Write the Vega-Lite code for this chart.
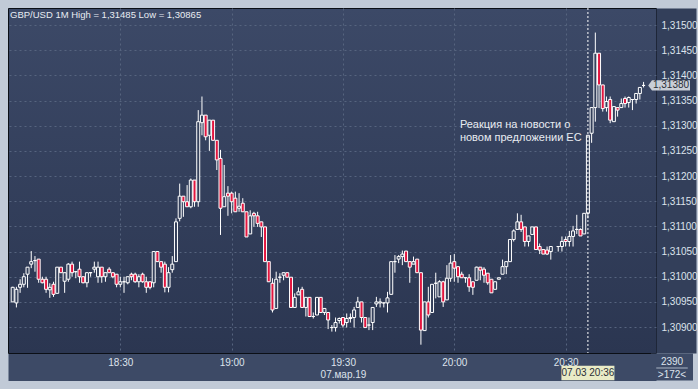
{
"$schema": "https://vega.github.io/schema/vega-lite/v6.json",
"width": 648, "height": 345,
"autosize": "none",
"padding": {"left": 8, "top": 8, "right": 42, "bottom": 36},
"background": "#c1cad7",
"config": {
 "view": {"stroke": "#0b0f16", "strokeWidth": 1, "fill": {"gradient": "linear", "x1": 0, "y1": 0, "x2": 0, "y2": 1, "stops": [{"offset": 0, "color": "#3c4967"}, {"offset": 1, "color": "#2b3651"}]}},
 "axis": {"labelFont": "Liberation Sans", "labelFontSize": 10, "labelColor": "#dde3ec", "gridColor": "#56647f", "gridDash": [2, 3], "ticks": false, "title": null, "labelOverlap": false}
},
"resolve": {"axis": {"x": "independent", "y": "independent"}},
"title": {"text": "GBP/USD 1M High = 1,31485 Low = 1,30865", "anchor": "start", "frame": "group", "offset": -12, "dx": 2, "font": "Liberation Sans", "fontSize": 9.5, "fontWeight": "normal", "color": "#e8ecf2"},
"datasets": {
"candles": [
{"t":"2019-03-07T18:01","o":1.30950,"h":1.30980,"l":1.30950,"c":1.30979},
{"t":"2019-03-07T18:02","o":1.30948,"h":1.30980,"l":1.30939,"c":1.30975},
{"t":"2019-03-07T18:03","o":1.30979,"h":1.30995,"l":1.30968,"c":1.30985},
{"t":"2019-03-07T18:04","o":1.30985,"h":1.31007,"l":1.30979,"c":1.31000},
{"t":"2019-03-07T18:05","o":1.31005,"h":1.31019,"l":1.30978,"c":1.31019},
{"t":"2019-03-07T18:06","o":1.31025,"h":1.31051,"l":1.31017,"c":1.31030},
{"t":"2019-03-07T18:07","o":1.31032,"h":1.31041,"l":1.31010,"c":1.31032},
{"t":"2019-03-07T18:08","o":1.31035,"h":1.31035,"l":1.30988,"c":1.30995},
{"t":"2019-03-07T18:09","o":1.30995,"h":1.31000,"l":1.30987,"c":1.30988},
{"t":"2019-03-07T18:10","o":1.30995,"h":1.31000,"l":1.30968,"c":1.30975},
{"t":"2019-03-07T18:11","o":1.30974,"h":1.30987,"l":1.30958,"c":1.30979},
{"t":"2019-03-07T18:12","o":1.30985,"h":1.30990,"l":1.30960,"c":1.30965},
{"t":"2019-03-07T18:13","o":1.30967,"h":1.31019,"l":1.30967,"c":1.31019},
{"t":"2019-03-07T18:14","o":1.31019,"h":1.31019,"l":1.31008,"c":1.31008},
{"t":"2019-03-07T18:15","o":1.30991,"h":1.31008,"l":1.30968,"c":1.31008},
{"t":"2019-03-07T18:16","o":1.30995,"h":1.31027,"l":1.30990,"c":1.31025},
{"t":"2019-03-07T18:17","o":1.31025,"h":1.31030,"l":1.31000,"c":1.31008},
{"t":"2019-03-07T18:18","o":1.31010,"h":1.31010,"l":1.30997,"c":1.31010},
{"t":"2019-03-07T18:19","o":1.31015,"h":1.31030,"l":1.30988,"c":1.31000},
{"t":"2019-03-07T18:20","o":1.31000,"h":1.31000,"l":1.30987,"c":1.30988},
{"t":"2019-03-07T18:21","o":1.30988,"h":1.31008,"l":1.30979,"c":1.31008},
{"t":"2019-03-07T18:22","o":1.31008,"h":1.31008,"l":1.31000,"c":1.31008},
{"t":"2019-03-07T18:23","o":1.31015,"h":1.31030,"l":1.31008,"c":1.31019},
{"t":"2019-03-07T18:24","o":1.31000,"h":1.31030,"l":1.30988,"c":1.31019},
{"t":"2019-03-07T18:25","o":1.31019,"h":1.31019,"l":1.30988,"c":1.31000},
{"t":"2019-03-07T18:26","o":1.31000,"h":1.31008,"l":1.30990,"c":1.31008},
{"t":"2019-03-07T18:27","o":1.31015,"h":1.31019,"l":1.31008,"c":1.31008},
{"t":"2019-03-07T18:28","o":1.31008,"h":1.31008,"l":1.30997,"c":1.31000},
{"t":"2019-03-07T18:29","o":1.31005,"h":1.31005,"l":1.30979,"c":1.30985},
{"t":"2019-03-07T18:30","o":1.30985,"h":1.31000,"l":1.30979,"c":1.30990},
{"t":"2019-03-07T18:31","o":1.30990,"h":1.31000,"l":1.30968,"c":1.30990},
{"t":"2019-03-07T18:32","o":1.30988,"h":1.31000,"l":1.30985,"c":1.31000},
{"t":"2019-03-07T18:33","o":1.31005,"h":1.31008,"l":1.30993,"c":1.31000},
{"t":"2019-03-07T18:34","o":1.31005,"h":1.31008,"l":1.30988,"c":1.30990},
{"t":"2019-03-07T18:35","o":1.30990,"h":1.31005,"l":1.30979,"c":1.31000},
{"t":"2019-03-07T18:36","o":1.31005,"h":1.31008,"l":1.30988,"c":1.30990},
{"t":"2019-03-07T18:37","o":1.30990,"h":1.31000,"l":1.30968,"c":1.30979},
{"t":"2019-03-07T18:38","o":1.30990,"h":1.30990,"l":1.30975,"c":1.30979},
{"t":"2019-03-07T18:39","o":1.30988,"h":1.31050,"l":1.30979,"c":1.31050},
{"t":"2019-03-07T18:40","o":1.31050,"h":1.31050,"l":1.31030,"c":1.31030},
{"t":"2019-03-07T18:41","o":1.31030,"h":1.31030,"l":1.31008,"c":1.31019},
{"t":"2019-03-07T18:42","o":1.31025,"h":1.31030,"l":1.30969,"c":1.30979},
{"t":"2019-03-07T18:43","o":1.30979,"h":1.31019,"l":1.30969,"c":1.31008},
{"t":"2019-03-07T18:44","o":1.31014,"h":1.31041,"l":1.31008,"c":1.31025},
{"t":"2019-03-07T18:45","o":1.31030,"h":1.31116,"l":1.31030,"c":1.31109},
{"t":"2019-03-07T18:46","o":1.31116,"h":1.31185,"l":1.31110,"c":1.31160},
{"t":"2019-03-07T18:47","o":1.31160,"h":1.31160,"l":1.31119,"c":1.31149},
{"t":"2019-03-07T18:48","o":1.31149,"h":1.31182,"l":1.31139,"c":1.31139},
{"t":"2019-03-07T18:49","o":1.31139,"h":1.31195,"l":1.31136,"c":1.31192},
{"t":"2019-03-07T18:50","o":1.31192,"h":1.31192,"l":1.31139,"c":1.31149},
{"t":"2019-03-07T18:51","o":1.31149,"h":1.31331,"l":1.31139,"c":1.31308},
{"t":"2019-03-07T18:52","o":1.31306,"h":1.31358,"l":1.31281,"c":1.31321},
{"t":"2019-03-07T18:53","o":1.31321,"h":1.31321,"l":1.31271,"c":1.31278},
{"t":"2019-03-07T18:54","o":1.31281,"h":1.31311,"l":1.31250,"c":1.31311},
{"t":"2019-03-07T18:55","o":1.31311,"h":1.31311,"l":1.31271,"c":1.31271},
{"t":"2019-03-07T18:56","o":1.31271,"h":1.31271,"l":1.31212,"c":1.31232},
{"t":"2019-03-07T18:57","o":1.31235,"h":1.31252,"l":1.31083,"c":1.31136},
{"t":"2019-03-07T18:58","o":1.31139,"h":1.31222,"l":1.31139,"c":1.31159},
{"t":"2019-03-07T18:59","o":1.31166,"h":1.31180,"l":1.31121,"c":1.31160},
{"t":"2019-03-07T19:00","o":1.31166,"h":1.31169,"l":1.31126,"c":1.31149},
{"t":"2019-03-07T19:01","o":1.31156,"h":1.31169,"l":1.31129,"c":1.31129},
{"t":"2019-03-07T19:02","o":1.31136,"h":1.31166,"l":1.31129,"c":1.31140},
{"t":"2019-03-07T19:03","o":1.31146,"h":1.31156,"l":1.31129,"c":1.31129},
{"t":"2019-03-07T19:04","o":1.31129,"h":1.31129,"l":1.31079,"c":1.31079},
{"t":"2019-03-07T19:05","o":1.31085,"h":1.31132,"l":1.31085,"c":1.31121},
{"t":"2019-03-07T19:06","o":1.31126,"h":1.31129,"l":1.31099,"c":1.31121},
{"t":"2019-03-07T19:07","o":1.31121,"h":1.31129,"l":1.31099,"c":1.31106},
{"t":"2019-03-07T19:08","o":1.31109,"h":1.31109,"l":1.31079,"c":1.31099},
{"t":"2019-03-07T19:09","o":1.31099,"h":1.31099,"l":1.31030,"c":1.31030},
{"t":"2019-03-07T19:10","o":1.31030,"h":1.31030,"l":1.30990,"c":1.30990},
{"t":"2019-03-07T19:11","o":1.30987,"h":1.30997,"l":1.30929,"c":1.30934},
{"t":"2019-03-07T19:12","o":1.30937,"h":1.31010,"l":1.30937,"c":1.30995},
{"t":"2019-03-07T19:13","o":1.30999,"h":1.31007,"l":1.30988,"c":1.30999},
{"t":"2019-03-07T19:14","o":1.31003,"h":1.31008,"l":1.30993,"c":1.31008},
{"t":"2019-03-07T19:15","o":1.31008,"h":1.31008,"l":1.30999,"c":1.30999},
{"t":"2019-03-07T19:16","o":1.30999,"h":1.30999,"l":1.30939,"c":1.30939},
{"t":"2019-03-07T19:17","o":1.30939,"h":1.30967,"l":1.30939,"c":1.30959},
{"t":"2019-03-07T19:18","o":1.30964,"h":1.30979,"l":1.30964,"c":1.30970},
{"t":"2019-03-07T19:19","o":1.30975,"h":1.30980,"l":1.30939,"c":1.30939},
{"t":"2019-03-07T19:20","o":1.30939,"h":1.30959,"l":1.30921,"c":1.30959},
{"t":"2019-03-07T19:21","o":1.30959,"h":1.30959,"l":1.30921,"c":1.30921},
{"t":"2019-03-07T19:22","o":1.30921,"h":1.30929,"l":1.30917,"c":1.30921},
{"t":"2019-03-07T19:23","o":1.30924,"h":1.30959,"l":1.30924,"c":1.30959},
{"t":"2019-03-07T19:24","o":1.30959,"h":1.30959,"l":1.30929,"c":1.30929},
{"t":"2019-03-07T19:25","o":1.30929,"h":1.30937,"l":1.30924,"c":1.30937},
{"t":"2019-03-07T19:26","o":1.30929,"h":1.30929,"l":1.30896,"c":1.30914},
{"t":"2019-03-07T19:27","o":1.30899,"h":1.30904,"l":1.30891,"c":1.30899},
{"t":"2019-03-07T19:28","o":1.30899,"h":1.30919,"l":1.30891,"c":1.30909},
{"t":"2019-03-07T19:29","o":1.30913,"h":1.30919,"l":1.30907,"c":1.30917},
{"t":"2019-03-07T19:30","o":1.30919,"h":1.30919,"l":1.30899,"c":1.30904},
{"t":"2019-03-07T19:31","o":1.30909,"h":1.30927,"l":1.30899,"c":1.30917},
{"t":"2019-03-07T19:32","o":1.30917,"h":1.30927,"l":1.30909,"c":1.30919},
{"t":"2019-03-07T19:33","o":1.30919,"h":1.30940,"l":1.30899,"c":1.30934},
{"t":"2019-03-07T19:34","o":1.30939,"h":1.30960,"l":1.30939,"c":1.30950},
{"t":"2019-03-07T19:35","o":1.30950,"h":1.30950,"l":1.30909,"c":1.30919},
{"t":"2019-03-07T19:36","o":1.30919,"h":1.30919,"l":1.30899,"c":1.30899},
{"t":"2019-03-07T19:37","o":1.30904,"h":1.30919,"l":1.30894,"c":1.30904},
{"t":"2019-03-07T19:38","o":1.30909,"h":1.30939,"l":1.30894,"c":1.30939},
{"t":"2019-03-07T19:39","o":1.30946,"h":1.30960,"l":1.30940,"c":1.30950},
{"t":"2019-03-07T19:40","o":1.30948,"h":1.30957,"l":1.30939,"c":1.30950},
{"t":"2019-03-07T19:41","o":1.30948,"h":1.30948,"l":1.30939,"c":1.30948},
{"t":"2019-03-07T19:42","o":1.30948,"h":1.30970,"l":1.30929,"c":1.30958},
{"t":"2019-03-07T19:43","o":1.30965,"h":1.31030,"l":1.30965,"c":1.31030},
{"t":"2019-03-07T19:44","o":1.31030,"h":1.31043,"l":1.31008,"c":1.31030},
{"t":"2019-03-07T19:45","o":1.31035,"h":1.31043,"l":1.31027,"c":1.31040},
{"t":"2019-03-07T19:46","o":1.31040,"h":1.31052,"l":1.31023,"c":1.31045},
{"t":"2019-03-07T19:47","o":1.31051,"h":1.31051,"l":1.31030,"c":1.31030},
{"t":"2019-03-07T19:48","o":1.31030,"h":1.31030,"l":1.30988,"c":1.31019},
{"t":"2019-03-07T19:49","o":1.31025,"h":1.31040,"l":1.31025,"c":1.31030},
{"t":"2019-03-07T19:50","o":1.31035,"h":1.31035,"l":1.31008,"c":1.31008},
{"t":"2019-03-07T19:51","o":1.31008,"h":1.31008,"l":1.30865,"c":1.30894},
{"t":"2019-03-07T19:52","o":1.30893,"h":1.30950,"l":1.30893,"c":1.30950},
{"t":"2019-03-07T19:53","o":1.30950,"h":1.30980,"l":1.30919,"c":1.30924},
{"t":"2019-03-07T19:54","o":1.30929,"h":1.30985,"l":1.30929,"c":1.30985},
{"t":"2019-03-07T19:55","o":1.30987,"h":1.31008,"l":1.30957,"c":1.30987},
{"t":"2019-03-07T19:56","o":1.30960,"h":1.30993,"l":1.30960,"c":1.30990},
{"t":"2019-03-07T19:57","o":1.30990,"h":1.30992,"l":1.30940,"c":1.30950},
{"t":"2019-03-07T19:58","o":1.30954,"h":1.31023,"l":1.30954,"c":1.30997},
{"t":"2019-03-07T19:59","o":1.30997,"h":1.31043,"l":1.30990,"c":1.31027},
{"t":"2019-03-07T20:00","o":1.31030,"h":1.31045,"l":1.30990,"c":1.31017},
{"t":"2019-03-07T20:01","o":1.31020,"h":1.31020,"l":1.30988,"c":1.31000},
{"t":"2019-03-07T20:02","o":1.31005,"h":1.31010,"l":1.30998,"c":1.30998},
{"t":"2019-03-07T20:03","o":1.30998,"h":1.30998,"l":1.30988,"c":1.30998},
{"t":"2019-03-07T20:04","o":1.30998,"h":1.31005,"l":1.30970,"c":1.30980},
{"t":"2019-03-07T20:05","o":1.30990,"h":1.30990,"l":1.30964,"c":1.30979},
{"t":"2019-03-07T20:06","o":1.30993,"h":1.31020,"l":1.30993,"c":1.31019},
{"t":"2019-03-07T20:07","o":1.31019,"h":1.31019,"l":1.30993,"c":1.31013},
{"t":"2019-03-07T20:08","o":1.31015,"h":1.31019,"l":1.30988,"c":1.31003},
{"t":"2019-03-07T20:09","o":1.31007,"h":1.31007,"l":1.30984,"c":1.30988},
{"t":"2019-03-07T20:10","o":1.30995,"h":1.30995,"l":1.30968,"c":1.30968},
{"t":"2019-03-07T20:11","o":1.30975,"h":1.30990,"l":1.30975,"c":1.30990},
{"t":"2019-03-07T20:12","o":1.30995,"h":1.30998,"l":1.30995,"c":1.30998},
{"t":"2019-03-07T20:13","o":1.31005,"h":1.31034,"l":1.31005,"c":1.31020},
{"t":"2019-03-07T20:14","o":1.31020,"h":1.31030,"l":1.31005,"c":1.31030},
{"t":"2019-03-07T20:15","o":1.31030,"h":1.31074,"l":1.31030,"c":1.31074},
{"t":"2019-03-07T20:16","o":1.31074,"h":1.31094,"l":1.31070,"c":1.31091},
{"t":"2019-03-07T20:17","o":1.31094,"h":1.31126,"l":1.31094,"c":1.31109},
{"t":"2019-03-07T20:18","o":1.31109,"h":1.31123,"l":1.31089,"c":1.31094},
{"t":"2019-03-07T20:19","o":1.31099,"h":1.31099,"l":1.31060,"c":1.31070},
{"t":"2019-03-07T20:20","o":1.31070,"h":1.31081,"l":1.31060,"c":1.31081},
{"t":"2019-03-07T20:21","o":1.31084,"h":1.31099,"l":1.31084,"c":1.31099},
{"t":"2019-03-07T20:22","o":1.31099,"h":1.31099,"l":1.31054,"c":1.31054},
{"t":"2019-03-07T20:23","o":1.31060,"h":1.31066,"l":1.31045,"c":1.31053},
{"t":"2019-03-07T20:24","o":1.31054,"h":1.31054,"l":1.31045,"c":1.31045},
{"t":"2019-03-07T20:25","o":1.31053,"h":1.31060,"l":1.31043,"c":1.31045},
{"t":"2019-03-07T20:26","o":1.31050,"h":1.31060,"l":1.31034,"c":1.31060},
{"t":"2019-03-07T20:28","o":1.31060,"h":1.31060,"l":1.31050,"c":1.31060},
{"t":"2019-03-07T20:29","o":1.31060,"h":1.31080,"l":1.31050,"c":1.31070},
{"t":"2019-03-07T20:30","o":1.31074,"h":1.31080,"l":1.31060,"c":1.31070},
{"t":"2019-03-07T20:31","o":1.31070,"h":1.31091,"l":1.31060,"c":1.31080},
{"t":"2019-03-07T20:32","o":1.31080,"h":1.31101,"l":1.31060,"c":1.31091},
{"t":"2019-03-07T20:33","o":1.31094,"h":1.31123,"l":1.31085,"c":1.31094},
{"t":"2019-03-07T20:34","o":1.31094,"h":1.31096,"l":1.31081,"c":1.31081},
{"t":"2019-03-07T20:35","o":1.31085,"h":1.31126,"l":1.31085,"c":1.31126},
{"t":"2019-03-07T20:36","o":1.31126,"h":1.31281,"l":1.31116,"c":1.31281},
{"t":"2019-03-07T20:37","o":1.31285,"h":1.31336,"l":1.31266,"c":1.31336},
{"t":"2019-03-07T20:38","o":1.31336,"h":1.31485,"l":1.31308,"c":1.31444},
{"t":"2019-03-07T20:39","o":1.31444,"h":1.31444,"l":1.31335,"c":1.31381},
{"t":"2019-03-07T20:40","o":1.31381,"h":1.31381,"l":1.31328,"c":1.31334},
{"t":"2019-03-07T20:41","o":1.31336,"h":1.31358,"l":1.31328,"c":1.31348},
{"t":"2019-03-07T20:42","o":1.31352,"h":1.31358,"l":1.31305,"c":1.31311},
{"t":"2019-03-07T20:43","o":1.31308,"h":1.31338,"l":1.31308,"c":1.31338},
{"t":"2019-03-07T20:44","o":1.31336,"h":1.31336,"l":1.31318,"c":1.31331},
{"t":"2019-03-07T20:45","o":1.31336,"h":1.31354,"l":1.31336,"c":1.31344},
{"t":"2019-03-07T20:46","o":1.31354,"h":1.31358,"l":1.31336,"c":1.31344},
{"t":"2019-03-07T20:47","o":1.31346,"h":1.31358,"l":1.31336,"c":1.31356},
{"t":"2019-03-07T20:48","o":1.31352,"h":1.31352,"l":1.31331,"c":1.31352},
{"t":"2019-03-07T20:49","o":1.31352,"h":1.31364,"l":1.31344,"c":1.31364},
{"t":"2019-03-07T20:50","o":1.31364,"h":1.31376,"l":1.31352,"c":1.31376},
{"t":"2019-03-07T20:51","o":1.31380,"h":1.31387,"l":1.31376,"c":1.31380}
],
"marker": [{"t": "2019-03-07T20:36"}],
"note": [{"t": "2019-03-07T20:01:30", "p": 1.31313, "txt": "Реакция на новости о\nновом предложении ЕС"}],
"last": [{"t": "2019-03-07T20:53", "p": 1.3138, "lab": "1,31380"}],
"cross": [{"t": "2019-03-07T20:36", "p": 1.308485, "lab": "07.03 20:36"}],
"corner": [{"t": "2019-03-07T20:53", "p": 1.308485, "lab": "2390\n>172<"}]
},
"layer": [
 {"data": {"name": "candles"},
  "mark": {"type": "rule", "color": "#ffffff", "strokeWidth": 1, "clip": true},
  "encoding": {
   "x": {"field": "t", "type": "temporal",
     "scale": {"domain": [{"year": 2019, "month": 3, "date": 7, "hours": 18, "minutes": 1, "seconds": 5}, {"year": 2019, "month": 3, "date": 7, "hours": 20, "minutes": 53, "seconds": 0}]},
     "axis": {"orient": "bottom", "grid": false, "labels": false, "domain": true, "domainColor": "#3d4a66", "domainWidth": 27, "offset": 14, "zindex": 0}},
   "y": {"field": "l", "type": "quantitative",
     "scale": {"domain": [1.308485, 1.315338], "zero": false, "nice": false},
     "axis": {"orient": "right", "grid": false, "labels": false, "domain": true, "domainWidth": 40, "offset": 20, "domainColor": "#333f5a", "zindex": 0}},
   "y2": {"field": "h"}
  }},
 {"data": {"name": "candles"},
  "mark": {"type": "bar", "width": 3, "stroke": "#ffffff", "strokeWidth": 1, "clip": true},
  "encoding": {
   "x": {"field": "t", "type": "temporal",
     "axis": {"orient": "bottom", "grid": true, "domain": false, "zindex": 0,
       "values": [{"year": 2019, "month": 3, "date": 7, "hours": 18, "minutes": 30}, {"year": 2019, "month": 3, "date": 7, "hours": 19, "minutes": 0}, {"year": 2019, "month": 3, "date": 7, "hours": 19, "minutes": 30}, {"year": 2019, "month": 3, "date": 7, "hours": 20, "minutes": 0}, {"year": 2019, "month": 3, "date": 7, "hours": 20, "minutes": 30}],
       "labelExpr": "timeFormat(datum.value, '%H:%M') == '19:30' ? ['19:30', '07.мар.19'] : timeFormat(datum.value, '%H:%M')",
       "labelPadding": 4, "labelLineHeight": 12, "labelBaseline": "top"}},
   "y": {"field": "o", "type": "quantitative",
     "axis": {"orient": "right", "grid": true, "domain": false, "zindex": 0,
       "values": [1.309, 1.3095, 1.31, 1.3105, 1.311, 1.3115, 1.312, 1.3125, 1.313, 1.3135, 1.314, 1.3145, 1.315],
       "labelExpr": "replace(format(datum.value, '.5f'), '.', ',')",
       "labelPadding": 5}},
   "y2": {"field": "c"},
   "fill": {"condition": {"test": "datum.c < datum.o", "value": "#e3163f"}, "value": "#34405b"}
  }},
 {"data": {"name": "marker"},
  "mark": {"type": "rule", "color": "#ffffff", "strokeDash": [2, 2], "strokeWidth": 1},
  "encoding": {"x": {"field": "t", "type": "temporal", "axis": null}}},
 {"data": {"name": "note"},
  "mark": {"type": "text", "align": "left", "baseline": "top", "lineBreak": "\n", "lineHeight": 13, "font": "Liberation Sans", "fontSize": 11, "color": "#e8ecf2"},
  "encoding": {"x": {"field": "t", "type": "temporal", "axis": null}, "y": {"field": "p", "type": "quantitative", "axis": null}, "text": {"field": "txt"}}},
 {"data": {"name": "last"},
  "mark": {"type": "point", "shape": "M-1.2,0L-1,-0.27L1,-0.27L1,0.27L-1,0.27Z", "filled": true, "size": 1444, "color": "#c9ced6", "opacity": 1, "xOffset": 20, "clip": false},
  "encoding": {"x": {"field": "t", "type": "temporal", "axis": null}, "y": {"field": "p", "type": "quantitative", "axis": null}}},
 {"data": {"name": "last"},
  "mark": {"type": "text", "align": "center", "baseline": "middle", "dx": 20, "font": "Liberation Sans", "fontSize": 10, "color": "#2a2f38", "clip": false},
  "encoding": {"x": {"field": "t", "type": "temporal", "axis": null}, "y": {"field": "p", "type": "quantitative", "axis": null}, "text": {"field": "lab"}}},
 {"data": {"name": "cross"},
  "mark": {"type": "point", "shape": "M-1,-0.27L1,-0.27L1,0.27L-1,0.27Z", "filled": true, "size": 2809, "color": "#e9ebc6", "opacity": 1, "yOffset": 20, "clip": false},
  "encoding": {"x": {"field": "t", "type": "temporal", "axis": null}, "y": {"field": "p", "type": "quantitative", "axis": null}}},
 {"data": {"name": "cross"},
  "mark": {"type": "text", "align": "center", "baseline": "middle", "dy": 20, "font": "Liberation Sans", "fontSize": 10, "color": "#2a2f38", "clip": false},
  "encoding": {"x": {"field": "t", "type": "temporal", "axis": null}, "y": {"field": "p", "type": "quantitative", "axis": null}, "text": {"field": "lab"}}},
 {"data": {"name": "corner"},
  "mark": {"type": "point", "shape": "M-1,-0.643L1,-0.643L1,0.643L-1,0.643Z", "filled": true, "size": 1764, "color": "#3d4a66", "opacity": 1, "xOffset": 21, "yOffset": 14, "clip": false},
  "encoding": {"x": {"field": "t", "type": "temporal", "axis": null}, "y": {"field": "p", "type": "quantitative", "axis": null}}},
 {"data": {"name": "corner"},
  "mark": {"type": "point", "shape": "M-0.75,0L0.75,0", "filled": false, "size": 1764, "color": "#aab4c4", "strokeWidth": 1, "opacity": 1, "xOffset": 21, "yOffset": 15, "clip": false},
  "encoding": {"x": {"field": "t", "type": "temporal", "axis": null}, "y": {"field": "p", "type": "quantitative", "axis": null}}},
 {"data": {"name": "corner"},
  "mark": {"type": "text", "align": "center", "baseline": "top", "dx": 21, "dy": 4, "lineBreak": "\n", "lineHeight": 13, "font": "Liberation Sans", "fontSize": 10, "color": "#dde3ec", "clip": false},
  "encoding": {"x": {"field": "t", "type": "temporal", "axis": null}, "y": {"field": "p", "type": "quantitative", "axis": null}, "text": {"field": "lab"}}}
]
}
